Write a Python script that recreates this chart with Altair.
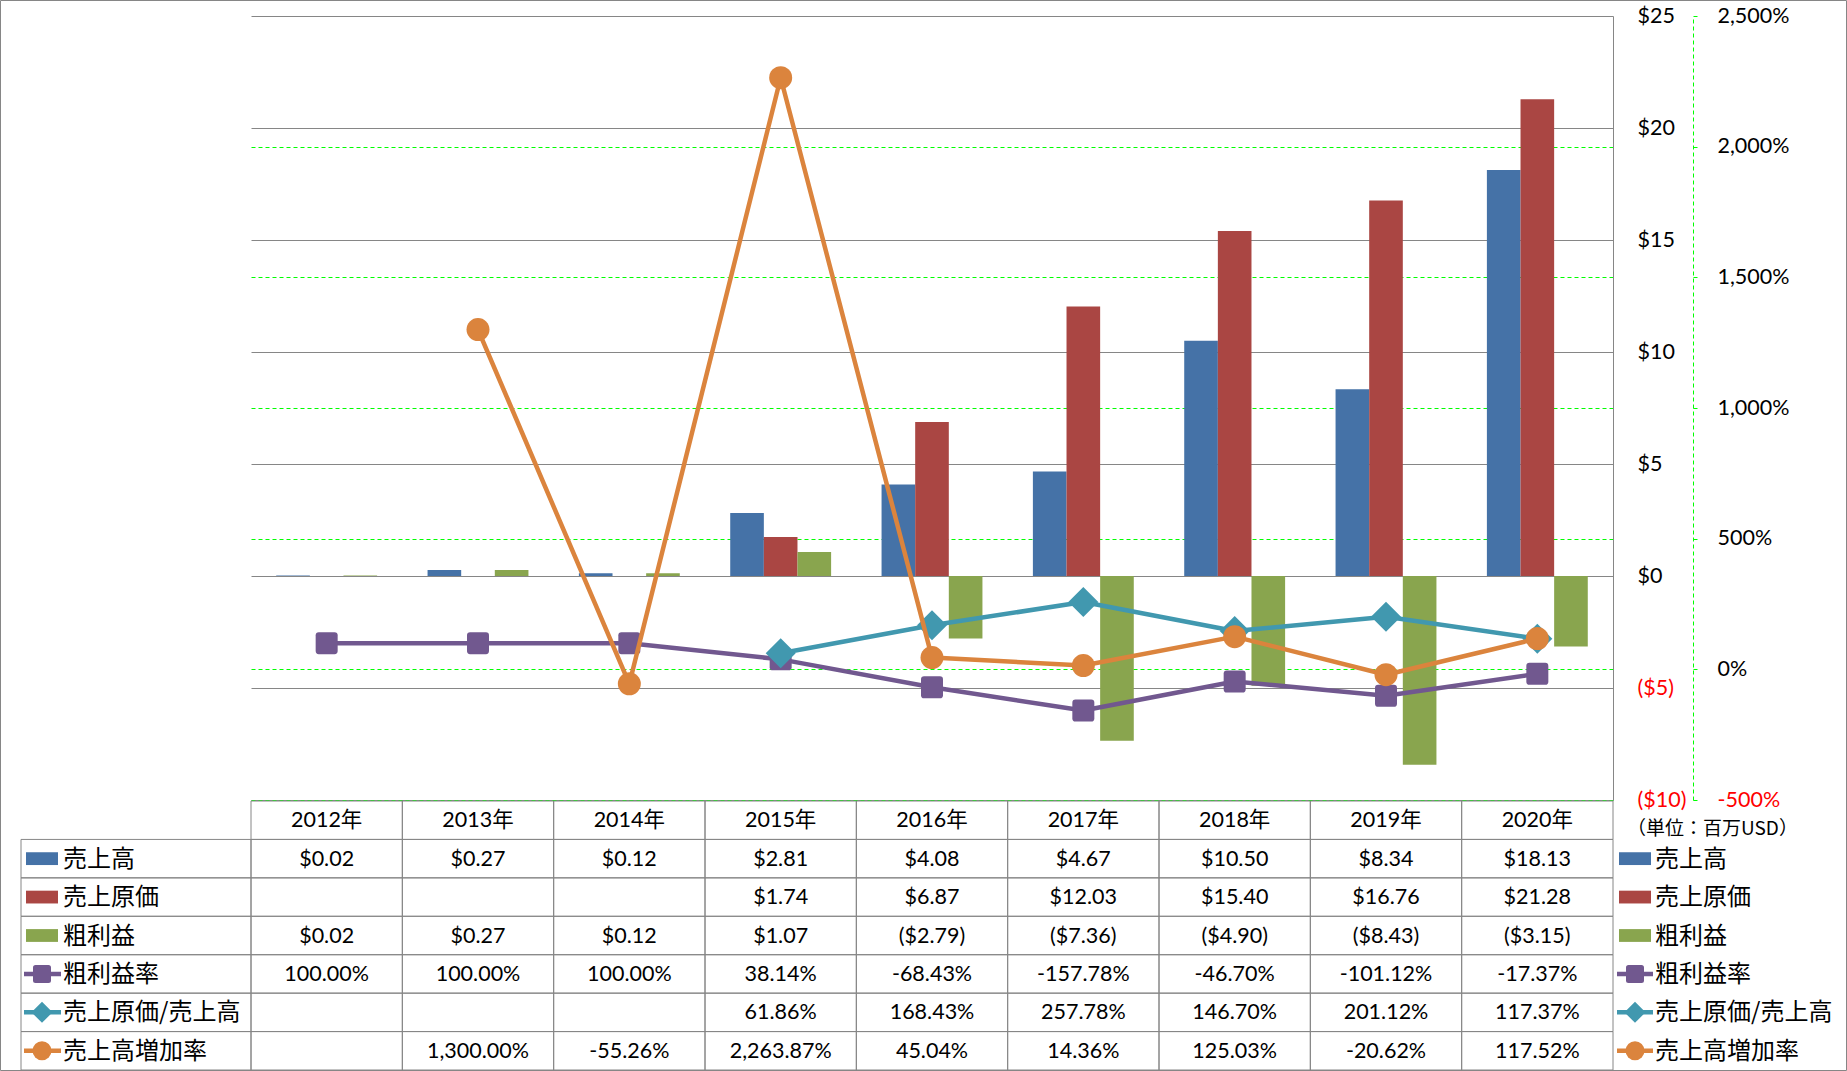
import altair as alt
import pandas as pd

# ---------------- data ----------------
years = ["2012年", "2013年", "2014年", "2015年", "2016年", "2017年", "2018年", "2019年", "2020年"]
sales = [0.02, 0.27, 0.12, 2.81, 4.08, 4.67, 10.50, 8.34, 18.13]
cogs = [None, None, None, 1.74, 6.87, 12.03, 15.40, 16.76, 21.28]
gross = [0.02, 0.27, 0.12, 1.07, -2.79, -7.36, -4.90, -8.43, -3.15]
gross_margin = [100.00, 100.00, 100.00, 38.14, -68.43, -157.78, -46.70, -101.12, -17.37]
cogs_ratio = [None, None, None, 61.86, 168.43, 257.78, 146.70, 201.12, 117.37]
sales_growth = [None, 1300.00, -55.26, 2263.87, 45.04, 14.36, 125.03, -20.62, 117.52]

bar_names = ["売上高", "売上原価", "粗利益"]
line_names = ["粗利益率", "売上原価/売上高", "売上高増加率"]
series_names = bar_names + line_names
colors = ["#4572A7", "#AA4643", "#89A54E", "#71588F", "#4198AF", "#DB843D"]
unit_text = "（単位：百万USD）"
usd_ticks = [-10, -5, 0, 5, 10, 15, 20, 25]
pct_ticks = [-500, 0, 500, 1000, 1500, 2000, 2500]

bar_values = [sales, cogs, gross]
line_values = [gross_margin, cogs_ratio, sales_growth]


def fmt_usd(v):
    return f"(${-v:.2f})" if v < 0 else f"${v:.2f}"


def fmt_pct(v):
    return f"{v:,.2f}%"


# ---------------- tables ----------------
bar_df = pd.DataFrame([
    {"year": y, "series": n, "value": v}
    for n, vals in zip(bar_names, bar_values)
    for y, v in zip(years, vals) if v is not None
])
line_df = pd.DataFrame([
    {"year": y, "series": n, "value": v}
    for n, vals in zip(line_names, line_values)
    for y, v in zip(years, vals) if v is not None
])

row_domain = ["header"] + series_names
trows = [{"year": y, "row": "header", "label": y} for y in years]
for n, vals in zip(bar_names, bar_values):
    for y, v in zip(years, vals):
        if v is not None:
            trows.append({"year": y, "row": n, "label": fmt_usd(v)})
for n, vals in zip(line_names, line_values):
    for y, v in zip(years, vals):
        if v is not None:
            trows.append({"year": y, "row": n, "label": fmt_pct(v)})
table_df = pd.DataFrame(trows)
cells_df = pd.DataFrame([{"year": y, "row": r} for r in row_domain for y in years])
leg_df = pd.DataFrame({"row": series_names})
bar_leg_df = pd.DataFrame({"row": bar_names})
line_leg_df = pd.DataFrame({"row": line_names})

# ---------------- styling ----------------
NUM_FONT = "Lato, 'Noto Sans CJK JP'"
JP_FONT = "'Noto Sans CJK JP'"
GRAY = "#868686"
GREEN = "#00FF00"
DASH = [4, 3]
SWATCH = "M-1,-0.4H1V0.4H-1Z"
RSQUARE = "M-0.72,-1H0.72Q1,-1 1,-0.72V0.72Q1,1 0.72,1H-0.72Q-1,1 -1,0.72V-0.72Q-1,-1 -0.72,-1Z"
marker_shapes = [RSQUARE, "diamond", "circle"]
chart_sizes = [484, 900, 529]
legend_sizes = [324, 441, 361]

color_scale = alt.Scale(domain=series_names, range=colors)

X = alt.X("year:N", scale=alt.Scale(domain=years, paddingInner=0, paddingOuter=0), axis=None)

Y1 = alt.Y(
    "value:Q",
    scale=alt.Scale(domain=[-10, 25], range=[784, 0], nice=False),
    axis=alt.Axis(
        orient="right", values=usd_ticks, title=None,
        labelExpr="datum.value < 0 ? '($' + abs(datum.value) + ')' : '$' + datum.value",
        labelColor={"condition": {"test": "datum.value < 0", "value": "#FF0000"}, "value": "#000000"},
        labelFont=NUM_FONT, labelFontSize=21.5, labelPadding=24, labelFlush=False, labelOverlap=False,
        ticks=False, domain=True, domainColor=GRAY, domainWidth=1,
        grid=True, gridColor=GRAY, gridWidth=1, gridOpacity=1,
    ),
)

Y2 = alt.Y(
    "value:Q",
    scale=alt.Scale(domain=[-500, 2500], range=[784, 0], nice=False),
    axis=alt.Axis(
        orient="right", offset=80, values=pct_ticks, title=None,
        labelExpr="(datum.value < 0 ? '-' : '') + format(abs(datum.value), ',') + '%'",
        labelColor={"condition": {"test": "datum.value < 0", "value": "#FF0000"}, "value": "#000000"},
        labelFont=NUM_FONT, labelFontSize=21.5, labelPadding=17, labelFlush=False, labelOverlap=False,
        ticks=True, tickSize=7, tickColor=GREEN, tickDash=DASH, tickWidth=1,
        domain=True, domainColor=GREEN, domainDash=DASH, domainWidth=1,
        grid=True, gridColor=GREEN, gridDash=DASH, gridWidth=1,
        gridOpacity={"condition": {"test": "datum.value >= 2500", "value": 0}, "value": 1},
    ),
)

YR = alt.Y("row:N", scale=alt.Scale(domain=row_domain, range=[785, 1054], paddingInner=0, paddingOuter=0), axis=None)

# ---------------- bars ----------------
bars = alt.Chart(bar_df).mark_bar().encode(
    x=X,
    xOffset=alt.XOffset("series:N", scale=alt.Scale(domain=bar_names, paddingInner=0, paddingOuter=0.75)),
    y=Y1,
    color=alt.Color("series:N", scale=color_scale, legend=None),
)

# ---------------- lines ----------------
line_layers = []
for name, col, shp, sz in zip(line_names, colors[3:], marker_shapes, chart_sizes):
    base = alt.Chart(line_df).transform_filter(alt.datum.series == name)
    line_layers.append(base.mark_line(strokeWidth=4.5, color=col, strokeJoin="round").encode(x=X, y=Y2))
    line_layers.append(base.mark_point(shape=shp, filled=True, opacity=1, size=sz, color=col).encode(x=X, y=Y2))
lines = alt.layer(*line_layers)

# ---------------- table ----------------
cells = alt.Chart(cells_df).mark_rect(fill="transparent", stroke=GRAY, strokeWidth=1).encode(x=X, y=YR)
label_cells = alt.Chart(leg_df).mark_rect(fill="transparent", stroke=GRAY, strokeWidth=1).encode(
    x=alt.value(-230), x2=alt.value(0), y=YR)
table_text = alt.Chart(table_df).mark_text(font=NUM_FONT, fontSize=21.5, align="center", baseline="middle",
                                           dy=1, color="#000000").encode(x=X, y=YR, text="label:N")


def legend_layers(x_sw, x_r1, x_r2, x_txt):
    out = []
    out.append(alt.Chart(bar_leg_df).mark_point(shape=SWATCH, filled=True, opacity=1, size=1024).encode(
        x=alt.value(x_sw), y=YR, color=alt.Color("row:N", scale=color_scale, legend=None)))
    out.append(alt.Chart(line_leg_df).mark_rule(strokeWidth=4.5).encode(
        x=alt.value(x_r1), x2=alt.value(x_r2), y=YR, color=alt.Color("row:N", scale=color_scale, legend=None)))
    for name, col, shp, sz in zip(line_names, colors[3:], marker_shapes, legend_sizes):
        out.append(alt.Chart(line_leg_df).transform_filter(alt.datum.row == name).mark_point(
            shape=shp, filled=True, opacity=1, size=sz, color=col).encode(x=alt.value(x_sw), y=YR))
    out.append(alt.Chart(leg_df).mark_text(font=JP_FONT, fontSize=24, align="left", baseline="middle",
                                           dy=1, color="#000000").encode(x=alt.value(x_txt), y=YR, text="row:N"))
    return out


table = alt.layer(cells, label_cells, table_text,
                  *legend_layers(-209, -227, -190, -188),
                  *legend_layers(1384, 1366, 1402, 1404))

# ---------------- annotations ----------------
unit = alt.Chart(pd.DataFrame({"t": [unit_text]})).mark_text(
    font=JP_FONT, fontSize=19, align="left", baseline="middle", color="#000000").encode(
    x=alt.value(1376), y=alt.value(813), text="t:N")
border = alt.Chart(pd.DataFrame({"t": [0]})).mark_rect(fill="transparent", stroke=GRAY, strokeWidth=1).encode(
    x=alt.value(-250.5), x2=alt.value(1595.5), y=alt.value(-15.5), y2=alt.value(1054.5))

chart = alt.layer(border, table, bars, lines, unit).resolve_scale(y="independent").properties(
    width=1362, height=784, padding=0, background="white"
).configure_view(strokeWidth=0)

chart.save("out.html", embed_options={"renderer": "svg", "actions": False})
